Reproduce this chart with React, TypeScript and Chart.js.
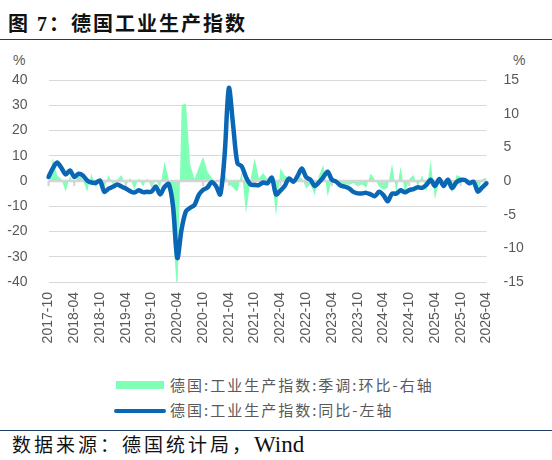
import React, { useEffect, useRef } from 'react';
import { Chart, registerables } from 'chart.js';

Chart.register(...registerables);

// ---- categories (monthly, 2017-10 .. 2026-04) ----
const startYear = 2017;
const startMonth = 10;
const monthCount = 103;
const categories: string[] = [];
for (let k = 0; k < monthCount; k++) {
  const m = startMonth - 1 + k;
  const y = startYear + Math.floor(m / 12);
  const mm = (m % 12) + 1;
  categories.push(`${y}-${String(mm).padStart(2, '0')}`);
}

const tickLabels = [
  '2017-10', '2018-04', '2018-10', '2019-04', '2019-10', '2020-04',
  '2020-10', '2021-04', '2021-10', '2022-04', '2022-10', '2023-04',
  '2023-10', '2024-04', '2024-10', '2025-04', '2025-10', '2026-04',
];

// 德国:工业生产指数:同比 (left axis, %)
const yoy = [
  1.6, 5.0, 7.3, 5.2, 2.6, 4.2, 1.6, 2.9, 2.2, 0.2,
  -0.6, -0.7, 0.2, -4.3, -3.0, -2.3, -1.4, -2.2, -3.0, -4.0,
  -4.6, -3.7, -4.4, -4.3, -4.2, -2.2, -5.3, -2.4, -1.2, -10,
  -30.5, -19, -12, -10.6, -9.5, -5.5, -3.5, -2.6, -0.5, -2.0,
  -5.3, 10, 36.8, 22, 7, 5.8, 1.5, -1.3, -1.6, -1.6,
  -0.6, -0.9, 1.3, -5.3, -3.8, -2.0, 1.0, -0.3, 2.0, 5.0,
  1.5, 0.5, -2.0, -0.5, 1.5, 3.7, 0.5, -0.3, -1.8, -2.2,
  -2.9, -4.3, -4.9, -4.9, -4.7, -5.3, -6.0, -4.3, -5.6, -8.0,
  -5.0, -5.0, -3.7, -4.5, -3.6, -3.2, -2.5, -2.7, -1.5, 0.5,
  -2.0, 0.8, -2.0, 0.5, -2.8, -0.5, 0.4, 0.4, -0.9, -0.3,
  -4.2, -2.5, -0.9,
];

// 德国:工业生产指数:季调:环比 (right axis, %)
const mom = [
  -1.5, 3.4, 0.8, 0.3, -1.6, 0.7, -0.6, 1.0, 0.2, -1.6,
  1.1, -1.0, 0.2, -1.1, 0.9, -0.5, 0.2, 0.9, -0.8, 0.5,
  -1.3, 0.4, -0.8, 0.4, -1.0, 0.1, -1.0, 2.9, 0.3, -8,
  -17, 11.3, 11.5, 2.4, 0.3, 2.0, 3.6, 1.4, 0.5, -0.2,
  0.3, 1.1, -0.4, -1.0, -1.6, 1.4, -4.8, 0, 3.4, 0.4,
  1.2, 0.3, 0.5, -5.2, 1.9, 0.8, 0.5, 0, 0.5, 0.5,
  -1.1, -0.5, -2.1, 0.8, 2.4, -2.3, 0.2, -0.3, -1.0, -0.4,
  -0.6, -0.3, -0.8, -0.5, -1.0, 1.1, 0.2, -0.8, -1.3, -1.0,
  2.6, -1.8, 2.1, -1.8, 0.3, 0.9, -0.8, 0.9, -1.6, 3.1,
  -2.8, 0.2, -1.0, 0.5, -1.8, 0.9, 0.6, 0.3, 0.2, -0.5,
  -1.5, 0.3, 0.5,
];

const seriesNames = ['德国:工业生产指数:季调:环比-右轴', '德国:工业生产指数:同比-左轴'];

const GREEN = '#80FFB6';
const BLUE = '#0A67B5';
const TXT = '#595959';
const NAVY = '#1F3B63';
const SANS = "'Liberation Sans', Arial, sans-serif";
const CJK = "'Noto Sans CJK SC', sans-serif";
const SERIF = "'Liberation Serif', 'Noto Sans CJK SC', serif";

const zeroLinePlugin = {
  id: 'zeroLine',
  afterDatasetDraw(chart: any, args: any) {
    if (args.index !== 1) return;
    const { ctx, chartArea, scales } = chart;
    const y0 = scales.y.getPixelForValue(0);
    ctx.save();
    ctx.strokeStyle = '#D4D4D4';
    ctx.lineWidth = 2.5;
    ctx.beginPath();
    ctx.moveTo(chartArea.left, y0);
    ctx.lineTo(chartArea.right, y0);
    ctx.stroke();
    ctx.lineWidth = 2;
    ctx.beginPath();
    tickLabels.forEach((l) => {
      const idx = categories.indexOf(l);
      if (idx < 0) return;
      const x = scales.x.getPixelForValue(idx);
      ctx.moveTo(x, y0);
      ctx.lineTo(x, y0 + 5);
    });
    ctx.stroke();
    ctx.restore();
  },
};

export default function App() {
  const ref = useRef<HTMLCanvasElement | null>(null);

  useEffect(() => {
    if (!ref.current) return;
    const chart = new Chart(ref.current, {
      type: 'line',
      data: {
        labels: categories,
        datasets: [
          {
            label: seriesNames[1],
            data: yoy,
            yAxisID: 'y',
            borderColor: BLUE,
            borderWidth: 4.5,
            pointRadius: 0,
            tension: 0.3,
            fill: false,
            borderCapStyle: 'round',
            borderJoinStyle: 'round',
          },
          {
            label: seriesNames[0],
            data: mom,
            yAxisID: 'y1',
            borderWidth: 0,
            borderColor: GREEN,
            backgroundColor: GREEN,
            pointRadius: 0,
            tension: 0,
            fill: 'origin',
          },
        ],
      },
      options: {
        animation: false,
        responsive: false,
        maintainAspectRatio: false,
        layout: { padding: { top: 40, left: 0, right: 0, bottom: 0 } },
        plugins: { legend: { display: false }, tooltip: { enabled: false } },
        scales: {
          x: {
            type: 'category',
            offset: false,
            grid: { display: false, drawTicks: false },
            border: { display: false },
            ticks: {
              autoSkip: false,
              minRotation: 90,
              maxRotation: 90,
              padding: 10,
              color: TXT,
              font: { size: 14, family: SANS },
              callback: (_v: any, index: number) => {
                const l = categories[index];
                return tickLabels.includes(l) ? l : null;
              },
            },
            afterFit: (s: any) => { s.height = 78; },
          },
          y: {
            position: 'left',
            min: -40,
            max: 40,
            ticks: { stepSize: 10, color: TXT, font: { size: 14, family: SANS }, padding: 21 },
            grid: { color: '#D9D9D9', lineWidth: 1, drawTicks: false },
            border: { display: false },
            afterFit: (s: any) => { s.width = 48.5; },
          },
          y1: {
            position: 'right',
            min: -15,
            max: 15,
            ticks: { stepSize: 5, color: TXT, font: { size: 14, family: SANS }, padding: 17 },
            grid: { display: false, drawTicks: false },
            border: { display: false },
            afterFit: (s: any) => { s.width = 65.5; },
          },
        },
      } as any,
      plugins: [zeroLinePlugin],
    });
    return () => chart.destroy();
  }, []);

  const abs = (s: React.CSSProperties): React.CSSProperties => ({ position: 'absolute', margin: 0, whiteSpace: 'nowrap', ...s });

  return (
    <div style={{ position: 'absolute', left: 0, top: 0, width: 552, height: 460, background: '#fff', overflow: 'hidden' }}>
      <div style={abs({ left: 8, top: 11.5, lineHeight: '24px', fontSize: 20, fontWeight: 'bold', letterSpacing: '2px', color: '#111', fontFamily: SERIF })}>
        图 7：德国工业生产指数
      </div>
      <div style={abs({ left: 0, top: 38.5, width: 552, height: 1.5, background: NAVY })} />
      <div style={abs({ left: 13, top: 51, lineHeight: '18px', fontSize: 14, color: TXT, fontFamily: SANS })}>%</div>
      <div style={abs({ left: 513, top: 51, lineHeight: '18px', fontSize: 14, color: TXT, fontFamily: SANS })}>%</div>
      <canvas ref={ref} width={552} height={320} style={{ position: 'absolute', left: 0, top: 40, width: 552, height: 320 }} />
      <div style={abs({ left: 116, top: 381, width: 48, height: 8, background: GREEN })} />
      <div style={abs({ left: 170, top: 375, lineHeight: '20px', fontSize: 15, letterSpacing: '2px', color: TXT, fontFamily: CJK })}>
        {seriesNames[0]}
      </div>
      <div style={abs({ left: 114, top: 408.5, width: 52, height: 4.5, borderRadius: 2.5, background: BLUE })} />
      <div style={abs({ left: 170, top: 400, lineHeight: '20px', fontSize: 15, letterSpacing: '2px', color: TXT, fontFamily: CJK })}>
        {seriesNames[1]}
      </div>
      <div style={abs({ left: 0, top: 429.5, width: 552, height: 1.5, background: NAVY })} />
      <div style={abs({ left: 12, top: 433, lineHeight: '24px', fontSize: 19, letterSpacing: '3px', color: '#111', fontFamily: SERIF })}>
        数据来源：德国统计局，<span style={{ fontSize: 23, letterSpacing: 0 }}>Wind</span>
      </div>
    </div>
  );
}
